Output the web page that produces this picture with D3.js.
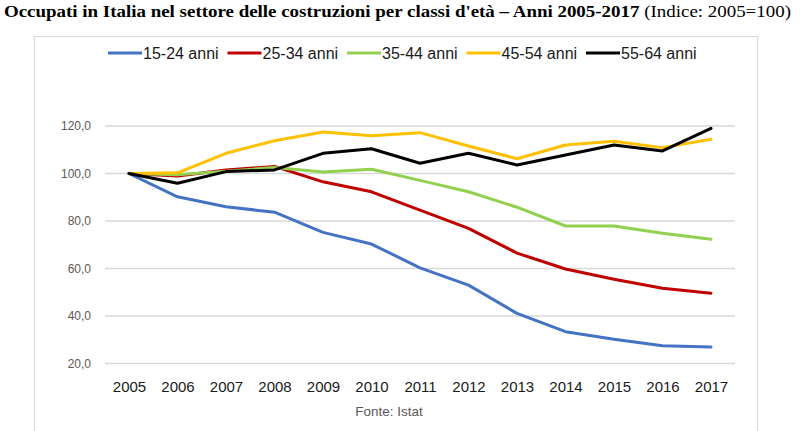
<!DOCTYPE html>
<html>
<head>
<meta charset="utf-8">
<script src="https://cdn.jsdelivr.net/npm/d3@7"></script>
<style>
  body { margin: 0; background: #fff; }
  svg { display: block; }
</style>
</head>
<body>
<svg width="803" height="431"></svg>
<script>
const width = 803, height = 431;

const years = [2005, 2006, 2007, 2008, 2009, 2010, 2011, 2012, 2013, 2014, 2015, 2016, 2017];
const seriesNames = ["15-24 anni", "25-34 anni", "35-44 anni", "45-54 anni", "55-64 anni"];
const seriesColors = ["#4472C4", "#C00000", "#92D050", "#FFC000", "#000000"];

const v1524 = [100, 90.2, 86.0, 83.7, 75.2, 70.3, 60.3, 53.0, 41.1, 33.4, 30.2, 27.5, 26.9];
const v2534 = [100, 98.9, 101.5, 103.0, 96.5, 92.3, 84.6, 76.9, 66.5, 59.8, 55.5, 51.7, 49.6];
const v3544 = [100, 99.5, 101.0, 102.5, 100.6, 101.8, 97.1, 92.3, 85.8, 77.9, 77.9, 74.8, 72.3];
const v4554 = [100, 100.3, 108.5, 113.8, 117.5, 115.9, 117.2, 111.6, 106.2, 112.0, 113.6, 110.9, 114.4];
const v5564 = [100, 95.9, 100.8, 101.5, 108.5, 110.4, 104.3, 108.5, 103.6, 107.8, 112.0, 109.5, 119.0];

const yTicks = [20, 40, 60, 80, 100, 120];

const allSeries = [v1524, v2534, v3544, v4554, v5564];

const svg = d3.select("svg");

// frame round the chart
svg.append("rect")
    .attr("x", 34.5).attr("y", 36.5)
    .attr("width", 723).attr("height", 420)
    .attr("fill", "none")
    .attr("stroke", "#d9d9d9")
    .attr("stroke-width", 1.2);

// title
const title = svg.append("text")
    .attr("x", 4).attr("y", 17)
    .attr("font-family", "'Liberation Serif', 'Times New Roman', serif")
    .attr("font-size", "17px")
    .attr("fill", "#000")
    .attr("textLength", 787)
    .attr("lengthAdjust", "spacingAndGlyphs");
title.append("tspan").attr("font-weight", "bold")
    .text("Occupati in Italia nel settore delle costruzioni per classi d'età – Anni 2005-2017");
title.append("tspan").text(" (Indice: 2005=100)");

// scales
const x = d3.scalePoint().domain(years).range([129, 711]);
const y = d3.scaleLinear().domain([20, 120]).range([363.5, 126]);

// gridlines
svg.append("g")
    .selectAll("line")
    .data(yTicks)
    .enter().append("line")
    .attr("x1", 105).attr("x2", 735)
    .attr("y1", d => y(d)).attr("y2", d => y(d))
    .attr("stroke", "#d9d9d9")
    .attr("stroke-width", 1.3);

// y axis labels
const fmt = d => d3.format(".1f")(d).replace(".", ",");
const yAxis = svg.append("g")
    .attr("transform", "translate(97,0)")
    .call(d3.axisLeft(y).tickValues(yTicks).tickFormat(fmt).tickSize(0).tickPadding(6));
yAxis.select(".domain").remove();
yAxis.selectAll("text")
    .attr("font-family", "'Liberation Sans Narrow', 'Arial Narrow', sans-serif")
    .attr("font-size", "12px")
    .attr("fill", "#595959");

// x axis labels
const xAxis = svg.append("g")
    .attr("transform", "translate(0,377)")
    .call(d3.axisBottom(x).tickSize(0).tickPadding(4));
xAxis.select(".domain").remove();
xAxis.selectAll("text")
    .attr("font-family", "'Liberation Sans Narrow', 'Arial Narrow', sans-serif")
    .attr("font-size", "15px")
    .attr("fill", "#1a1a1a");

// lines
const line = d3.line()
    .x((d, i) => x(years[i]))
    .y(d => y(d));

svg.append("g")
    .selectAll("path")
    .data(allSeries)
    .enter().append("path")
    .attr("d", d => line(d))
    .attr("fill", "none")
    .attr("stroke", (d, i) => seriesColors[i])
    .attr("stroke-width", 3)
    .attr("stroke-linejoin", "round")
    .attr("stroke-linecap", "round");

// legend
const legend = svg.append("g")
    .selectAll("g")
    .data(seriesNames)
    .enter().append("g")
    .attr("transform", (d, i) => `translate(${108 + i * 119.5},53)`);
legend.append("line")
    .attr("x1", 0).attr("x2", 34)
    .attr("stroke", (d, i) => seriesColors[i])
    .attr("stroke-width", 3);
legend.append("text")
    .attr("x", 35).attr("y", 5.5)
    .attr("font-family", "'Liberation Sans Narrow', 'Arial Narrow', sans-serif")
    .attr("font-size", "16px")
    .attr("fill", "#1a1a1a")
    .text(d => d);

// source note
svg.append("text")
    .attr("x", 389).attr("y", 416)
    .attr("text-anchor", "middle")
    .attr("font-family", "'Liberation Sans Narrow', 'Arial Narrow', sans-serif")
    .attr("font-size", "13.5px")
    .attr("fill", "#595959")
    .text("Fonte: Istat");
</script>
</body>
</html>
